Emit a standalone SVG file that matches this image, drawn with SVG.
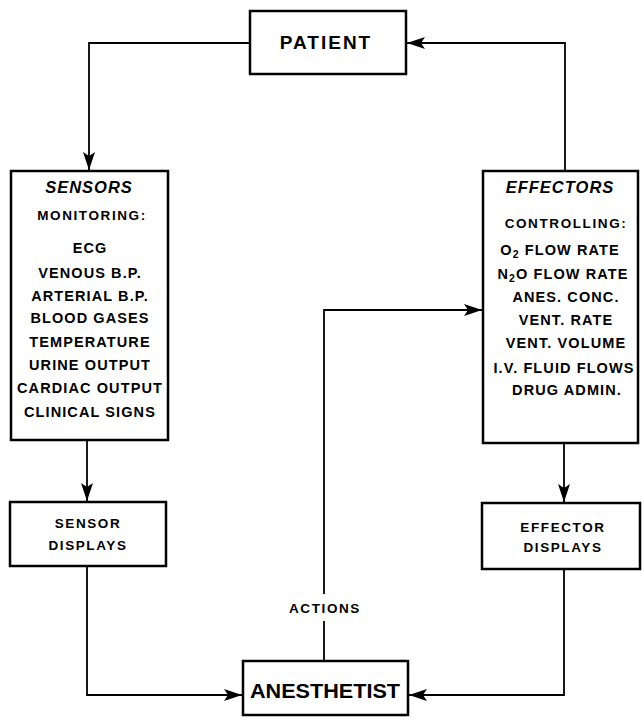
<svg xmlns="http://www.w3.org/2000/svg" width="642" height="725" viewBox="0 0 642 725">
<defs>
<marker id="ah" viewBox="0 0 18 12" refX="18" refY="6" markerWidth="18" markerHeight="12" markerUnits="userSpaceOnUse" orient="auto">
<path d="M0,0 L18,6 L0,12 L4,6 Z" fill="#000"/>
</marker>
</defs>
<style>
.box{fill:#fff;stroke:#000;stroke-width:2.5}
.ln{fill:none;stroke:#000;stroke-width:1.8}
text{font-family:"Liberation Sans","DejaVu Sans",sans-serif;font-weight:bold;fill:#000;text-anchor:middle}
.it{font-style:italic;font-size:16.5px;letter-spacing:1px}
.hd{font-size:13.5px;letter-spacing:1.6px}
.li{font-size:14.5px;letter-spacing:1.1px}
.sub{font-size:10.5px}
</style>
<rect width="642" height="725" fill="#fff"/>
<g id="connectors">
<path class="ln" d="M250,43 H89 V170" marker-end="url(#ah)"/>
<path class="ln" d="M565,171 V43 H407" marker-end="url(#ah)"/>
<path class="ln" d="M87,440 V501" marker-end="url(#ah)"/>
<path class="ln" d="M564,443 V502" marker-end="url(#ah)"/>
<path class="ln" d="M87,566 V695 H242" marker-end="url(#ah)"/>
<path class="ln" d="M564,569 V695 H409" marker-end="url(#ah)"/>
<path class="ln" d="M324,661 V621 M324,594 V310 H482" marker-end="url(#ah)"/>
<text x="325" y="613" class="hd">ACTIONS</text>
</g>
<g id="patient">
<rect class="box" x="250" y="11" width="156" height="63"/>
<text x="326" y="49" font-size="19" letter-spacing="2">PATIENT</text>
</g>
<g id="sensors">
<rect class="box" x="11" y="171" width="157" height="269"/>
<text x="89" y="193" class="it">SENSORS</text>
<text x="92" y="220" class="hd">MONITORING:</text>
<text x="90" y="253" class="li">ECG</text>
<text x="90" y="278" class="li">VENOUS  B.P.</text>
<text x="90" y="301" class="li">ARTERIAL  B.P.</text>
<text x="90" y="323" class="li">BLOOD  GASES</text>
<text x="90" y="347" class="li">TEMPERATURE</text>
<text x="90" y="370" class="li">URINE  OUTPUT</text>
<text x="90" y="393" class="li">CARDIAC  OUTPUT</text>
<text x="90" y="417" class="li">CLINICAL  SIGNS</text>
</g>
<g id="effectors">
<rect class="box" x="483" y="171" width="155" height="272"/>
<text x="560" y="193" class="it">EFFECTORS</text>
<text x="566" y="228" class="hd">CONTROLLING:</text>
<text x="560" y="255" class="li">O<tspan class="sub" dy="3">2</tspan><tspan dy="-3"> FLOW RATE</tspan></text>
<text x="563" y="279" class="li">N<tspan class="sub" dy="3">2</tspan><tspan dy="-3">O FLOW RATE</tspan></text>
<text x="566" y="302" class="li">ANES. CONC.</text>
<text x="566" y="325" class="li">VENT. RATE</text>
<text x="566" y="348" class="li">VENT. VOLUME</text>
<text x="564" y="373" class="li">I.V. FLUID FLOWS</text>
<text x="567" y="395" class="li">DRUG  ADMIN.</text>
</g>
<g id="sensor-displays">
<rect class="box" x="10" y="502" width="156" height="64"/>
<text x="88" y="528" class="hd">SENSOR</text>
<text x="88" y="550" class="hd">DISPLAYS</text>
</g>
<g id="effector-displays">
<rect class="box" x="482" y="503" width="158" height="66"/>
<text x="563" y="532" class="hd">EFFECTOR</text>
<text x="563" y="552" class="hd">DISPLAYS</text>
</g>
<g id="anesthetist">
<rect class="box" x="243" y="661" width="165" height="54"/>
<text x="325" y="698" font-size="21" textLength="150" lengthAdjust="spacingAndGlyphs">ANESTHETIST</text>
</g>
</svg>
